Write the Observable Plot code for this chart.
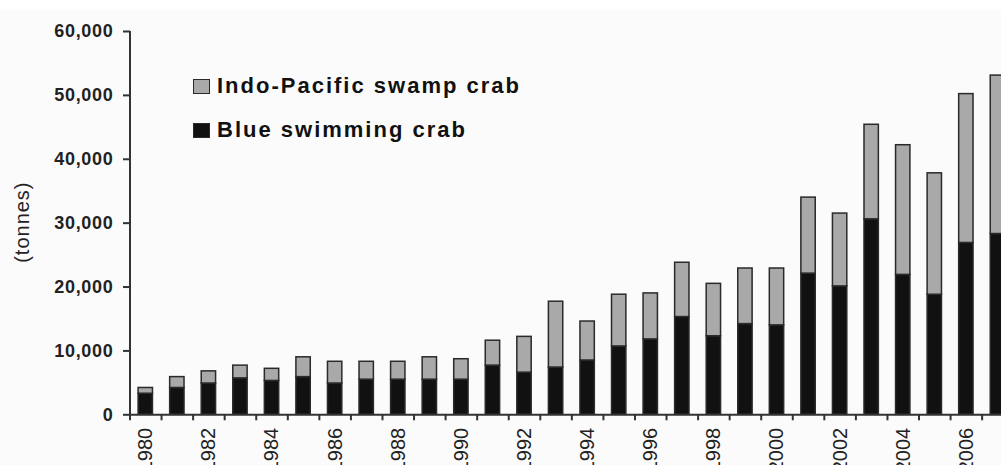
<!DOCTYPE html>
<html>
<head>
<meta charset="utf-8">
<script src="https://cdn.jsdelivr.net/npm/d3@7"></script>
<script src="https://cdn.jsdelivr.net/npm/@observablehq/plot@0.6"></script>
<style>
  html, body { margin: 0; padding: 0; background: #fbfbfb; }
  #wrap { position: relative; width: 1001px; height: 465px; overflow: hidden; font-family: "Liberation Sans", Arial, sans-serif; }
  #topstrip { position: absolute; left: 0; top: 0; width: 1001px; height: 10px; background: #ffffff; }
  #chart { position: absolute; left: 0; top: 0; }
  #chart svg { display: block; overflow: hidden; }
  [aria-label="y-axis tick label"] text { letter-spacing: 0.7px; }
  [aria-label="text"] text { letter-spacing: 1px; }
  .swatch { position: absolute; width: 15px; height: 13px; border: 1.5px solid #2a2a2a; }
  .ltext { position: absolute; white-space: nowrap; font-size: 22px; line-height: 22px; font-weight: bold; letter-spacing: 2px; color: #111; }
</style>
</head>
<body>
<div id="wrap">
  <div id="topstrip"></div>
  <div id="chart"></div>
  <div id="legend"></div>
</div>
<script>
const years = [1980, 1981, 1982, 1983, 1984, 1985, 1986, 1987, 1988, 1989, 1990, 1991, 1992, 1993,
               1994, 1995, 1996, 1997, 1998, 1999, 2000, 2001, 2002, 2003, 2004, 2005, 2006, 2007];
const blueSwimming = [3300, 4200, 4900, 5700, 5300, 5900, 4900, 5500, 5500, 5500, 5500, 7700, 6600, 7400,
                      8500, 10700, 11800, 15300, 12300, 14200, 14000, 22100, 20100, 30600, 21900, 18800, 26900, 28300];
const indoPacificSwamp = [900, 1700, 1900, 2000, 1900, 3100, 3400, 2800, 2800, 3500, 3200, 3900, 5600, 10300,
                          6100, 8100, 7200, 8500, 8200, 8700, 8900, 11900, 11400, 14800, 20300, 19000, 23300, 24800];
const seriesNames = ["Indo-Pacific swamp crab", "Blue swimming crab"];
const seriesColors = ["#a9a9a9", "#111111"];
const yTicks = [0, 10000, 20000, 30000, 40000, 50000, 60000];
const labelYears = [1980, 1982, 1984, 1986, 1988, 1990, 1992, 1994, 1996, 1998, 2000, 2002, 2004, 2006];
const yLabel = "(tonnes)";

// stacked table built from the arrays
const rows = [];
years.forEach((yr, i) => {
  rows.push({year: yr, series: seriesNames[1], y1: 0, y2: blueSwimming[i]});
  rows.push({year: yr, series: seriesNames[0], y1: blueSwimming[i], y2: blueSwimming[i] + indoPacificSwamp[i]});
});
const boundaries = years.map(y => y - 0.5).concat([years[years.length - 1] + 0.5]);

const chart = Plot.plot({
  width: 1001,
  height: 465,
  marginLeft: 130,
  marginRight: 0,
  marginTop: 31,
  marginBottom: 50.7,
  style: {background: "transparent", fontFamily: "Liberation Sans, Arial, sans-serif", color: "#222"},
  x: {type: "linear", domain: [1979.5, 2007.5], range: [129.5, 1013.2]},
  y: {domain: [0, 60000]},
  color: {domain: seriesNames, range: seriesColors},
  marks: [
    Plot.rectY(rows, {
      x1: d => d.year - 0.5, x2: d => d.year + 0.5, y1: "y1", y2: "y2",
      insetLeft: 8.6, insetRight: 8.6,
      fill: "series", stroke: "#2a2a2a", strokeWidth: 1.5
    }),
    Plot.ruleY([0], {stroke: "#333", strokeWidth: 2}),
    Plot.ruleX([1979.5], {y1: 0, y2: 60000, stroke: "#333", strokeWidth: 2}),
    Plot.axisY({
      ticks: yTicks, tickFormat: d3.format(","), tickSize: 7, tickPadding: 10,
      fontSize: 18, fontWeight: "bold", stroke: "#333", strokeWidth: 2, label: null
    }),
    Plot.axisX({
      ticks: boundaries, tickFormat: () => "", tickSize: 6, stroke: "#333", strokeWidth: 2, label: null
    }),
    Plot.axisX({
      ticks: labelYears, tickFormat: d => String(d), tickSize: 0, tickPadding: 13, tickRotate: -90,
      fontSize: 20, label: null
    }),
    Plot.text([yLabel], {
      text: d => d, frameAnchor: "left", textAnchor: "middle", dx: -107.5, dy: -1, rotate: -90,
      fontSize: 20, fill: "#222"
    })
  ]
});
document.getElementById("chart").appendChild(chart);

// legend (inside plot area, HTML overlay)
const legend = document.getElementById("legend");
const legendTops = [79, 123.3];
seriesNames.forEach((name, i) => {
  const sw = document.createElement("div");
  sw.className = "swatch";
  sw.style.left = "193px";
  sw.style.top = legendTops[i] + "px";
  sw.style.background = seriesColors[i];
  legend.appendChild(sw);
  const tx = document.createElement("div");
  tx.className = "ltext";
  tx.style.left = "217px";
  tx.style.top = (legendTops[i] - 4) + "px";
  tx.textContent = name;
  legend.appendChild(tx);
});
</script>
</body>
</html>
